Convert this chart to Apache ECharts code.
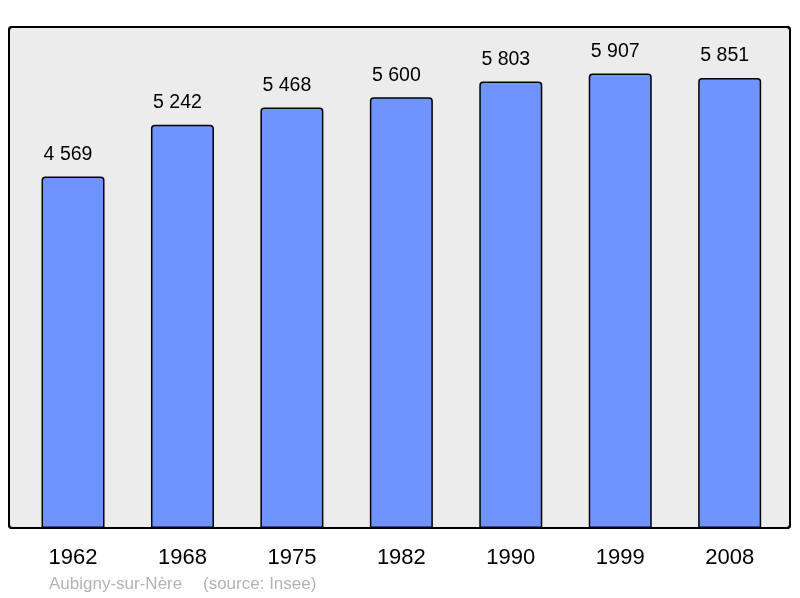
<!DOCTYPE html>
<html>
<head>
<meta charset="utf-8">
<script src="https://cdn.jsdelivr.net/npm/echarts@6/dist/echarts.min.js"></script>
<style>
  html, body { margin: 0; padding: 0; background: #fff; }
  #chart { width: 800px; height: 598px; }
</style>
</head>
<body>
<div id="chart"></div>
<script>
// années du recensement
const years = ['1962', '1968', '1975', '1982', '1990', '1999', '2008'];
// population
const population = [4569, 5242, 5468, 5600, 5803, 5907, 5851];
const townName = 'Aubigny-sur-Nère';
const sourceText = '(source: Insee)';

const fontFamily = '"Liberation Sans", Arial, sans-serif';

// séparateur des milliers : espace
const formatNumber = v => String(v).replace(/\B(?=(\d{3})+(?!\d))/g, ' ');

var myChart = echarts.init(document.getElementById('chart'));
var option = {
  animation: false,
  grid: {
    left: 18.3,
    right: 15.6,
    top: 28,
    bottom: 70
  },
  xAxis: {
    type: 'category',
    data: years,
    axisLine: { show: false },
    axisTick: { show: false },
    axisLabel: {
      margin: 19,
      fontSize: 22,
      color: '#000',
      fontFamily: fontFamily
    }
  },
  yAxis: {
    type: 'value',
    min: 0,
    max: 6500,
    show: false,
    splitLine: { show: false }
  },
  graphic: [
    {
      type: 'rect',
      z: -1,
      shape: { x: 9, y: 27, width: 781, height: 501, r: 3 },
      style: { fill: '#ececec', stroke: '#000', lineWidth: 2 },
      silent: true
    },
    {
      type: 'rect',
      z: 10,
      shape: { x: 9, y: 27, width: 781, height: 501, r: 3 },
      style: { fill: 'none', stroke: '#000', lineWidth: 2 },
      silent: true
    },
    {
      type: 'text',
      left: 49,
      top: 576,
      style: { text: townName, fill: '#b3b3b3', fontSize: 17, fontFamily: fontFamily }
    },
    {
      type: 'text',
      left: 203,
      top: 576,
      style: { text: sourceText, fill: '#b3b3b3', fontSize: 17, fontFamily: fontFamily }
    }
  ],
  series: [
    {
      type: 'bar',
      data: population,
      barWidth: 63,
      itemStyle: {
        color: '#7094ff',
        borderColor: '#000',
        borderWidth: 1.5,
        borderRadius: [3, 3, 0, 0]
      },
      label: {
        show: true,
        position: 'top',
        distance: 12,
        offset: [-5, 0],
        fontSize: 19.5,
        color: '#000',
        fontFamily: fontFamily,
        formatter: p => formatNumber(p.value)
      }
    }
  ]
};
myChart.setOption(option);
</script>
</body>
</html>
